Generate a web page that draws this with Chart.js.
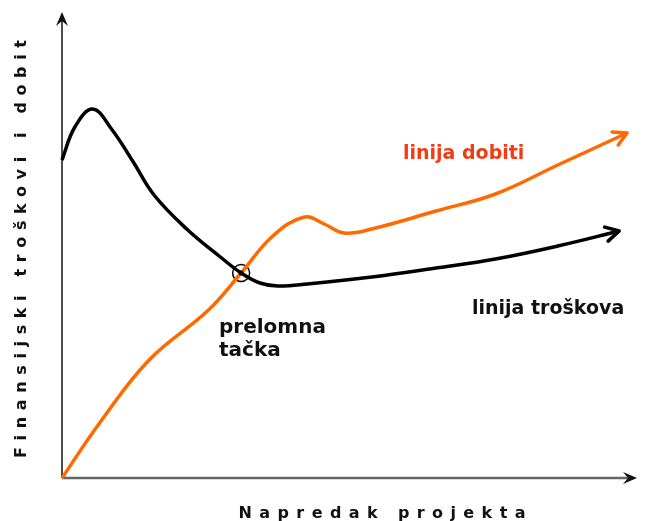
<!DOCTYPE html>
<html>
<head>
<meta charset="utf-8">
<script src="https://cdn.jsdelivr.net/npm/chart.js@4/dist/chart.umd.min.js"></script>
<style>
  html, body { margin: 0; padding: 0; background: #fff; }
  #wrap { width: 647px; height: 521px; }
</style>
</head>
<body>
<div id="wrap"><canvas id="chart"></canvas></div>
<script>
// progress along the project (x) and money (y), in chart units
var costX = [0, 13, 31, 50, 72, 93, 126, 160, 181, 200, 218, 248, 313, 378, 438, 501, 563];
var costY = [318, 351, 369, 349, 316, 283, 249, 221, 205, 195, 192, 194, 201, 210, 219, 232, 247];

var profitX = [0, 38, 88, 148, 181, 213, 245, 265, 285, 313, 378, 438, 501, 571];
var profitY = [0, 55, 118, 168, 205, 242, 261, 254, 245, 249, 267, 284, 313, 345];

var breakEven = [{x: 181, y: 205}];

var xTitle = 'Napredak projekta';
var yTitle = 'Finansijski troškovi i dobit';

function toPoints(xs, ys) {
  return xs.map(function (x, i) { return {x: x, y: ys[i]}; });
}

function arrowHead(ctx, from, to, size, color, width) {
  var a = Math.atan2(to.y - from.y, to.x - from.x);
  ctx.save();
  ctx.strokeStyle = color;
  ctx.lineWidth = width;
  ctx.lineCap = 'round';
  ctx.lineJoin = 'round';
  ctx.beginPath();
  ctx.moveTo(to.x - size * Math.cos(a - 0.5), to.y - size * Math.sin(a - 0.5));
  ctx.lineTo(to.x, to.y);
  ctx.lineTo(to.x - size * Math.cos(a + 0.5), to.y - size * Math.sin(a + 0.5));
  ctx.stroke();
  ctx.restore();
}

function solidArrow(ctx, tip, angle, color) {
  ctx.save();
  ctx.translate(tip.x, tip.y);
  ctx.rotate(angle);
  ctx.fillStyle = color;
  ctx.beginPath();
  ctx.moveTo(0, 0);
  ctx.lineTo(-14, -6);
  ctx.lineTo(-9, 0);
  ctx.lineTo(-14, 6);
  ctx.closePath();
  ctx.fill();
  ctx.restore();
}

function spacedText(ctx, text, cx, cy, span) {
  ctx.letterSpacing = '0px';
  var w = ctx.measureText(text).width;
  var ls = (span - w) / (text.length - 1);
  ctx.letterSpacing = ls + 'px';
  var total = ctx.measureText(text).width - ls;
  ctx.textAlign = 'left';
  ctx.fillText(text, cx - total / 2, cy);
  ctx.letterSpacing = '0px';
}

var decorations = {
  id: 'decorations',
  beforeDatasetsDraw: function (chart) {
    var ctx = chart.ctx;
    var a = chart.chartArea;
    ctx.save();
    // y axis
    ctx.strokeStyle = '#111';
    ctx.lineWidth = 1.5;
    ctx.beginPath();
    ctx.moveTo(a.left, a.bottom);
    ctx.lineTo(a.left, a.top + 4);
    ctx.stroke();
    // x axis
    ctx.strokeStyle = '#666';
    ctx.lineWidth = 2.5;
    ctx.beginPath();
    ctx.moveTo(a.left, a.bottom);
    ctx.lineTo(a.right - 4, a.bottom);
    ctx.stroke();
    ctx.restore();
    solidArrow(ctx, {x: a.left, y: a.top - 3}, -Math.PI / 2, '#111');
    solidArrow(ctx, {x: a.right, y: a.bottom}, 0, '#111');
  },
  afterDatasetsDraw: function (chart) {
    var ctx = chart.ctx;
    [0, 1].forEach(function (i) {
      var pts = chart.getDatasetMeta(i).data;
      var ds = chart.data.datasets[i];
      var n = pts.length;
      arrowHead(ctx, pts[n - 2], pts[n - 1], 15, ds.borderColor, 3.5);
    });

    // small dot at the crossing
    var be = chart.getDatasetMeta(2).data[0];
    ctx.save();
    ctx.fillStyle = '#000';
    ctx.beginPath();
    ctx.arc(be.x, be.y, 2.5, 0, Math.PI * 2);
    ctx.fill();

    ctx.textBaseline = 'alphabetic';
    ctx.font = 'bold 19px "DejaVu Sans"';
    ctx.fillStyle = '#f23c14';
    ctx.fillText('linija dobiti', 403, 159);
    ctx.fillStyle = '#111';
    ctx.fillText('linija troškova', 472, 314);
    ctx.font = 'bold 20px "DejaVu Sans"';
    ctx.fillText('prelomna', 219, 333);
    ctx.fillText('tačka', 219, 356);

    ctx.font = 'bold 16px "DejaVu Sans"';
    spacedText(ctx, xTitle, 382, 518, 287);
    ctx.translate(26, 249);
    ctx.rotate(-Math.PI / 2);
    spacedText(ctx, yTitle, 0, 0, 418);
    ctx.restore();
  }
};

new Chart(document.getElementById('chart'), {
  type: 'line',
  data: {
    datasets: [
      {
        label: 'linija troškova',
        data: toPoints(costX, costY),
        borderColor: '#000',
        borderWidth: 3.5,
        pointRadius: 0,
        tension: 0.4,
        clip: false
      },
      {
        label: 'linija dobiti',
        data: toPoints(profitX, profitY),
        borderColor: '#ff6a00',
        borderWidth: 3.5,
        pointRadius: 0,
        tension: 0.4,
        clip: false
      },
      {
        label: 'prelomna tačka',
        data: breakEven,
        showLine: false,
        pointRadius: 8.5,
        pointBorderWidth: 1.5,
        pointBorderColor: '#000',
        pointBackgroundColor: 'rgba(0,0,0,0)',
        clip: false
      }
    ]
  },
  options: {
    responsive: true,
    maintainAspectRatio: false,
    animation: false,
    layout: { padding: { left: 62, top: 15, right: 4, bottom: 43 } },
    plugins: {
      legend: { display: false },
      tooltip: { enabled: false }
    },
    scales: {
      x: { type: 'linear', min: 0, max: 581, display: false },
      y: { type: 'linear', min: 0, max: 463, display: false }
    }
  },
  plugins: [decorations]
});
</script>
</body>
</html>
